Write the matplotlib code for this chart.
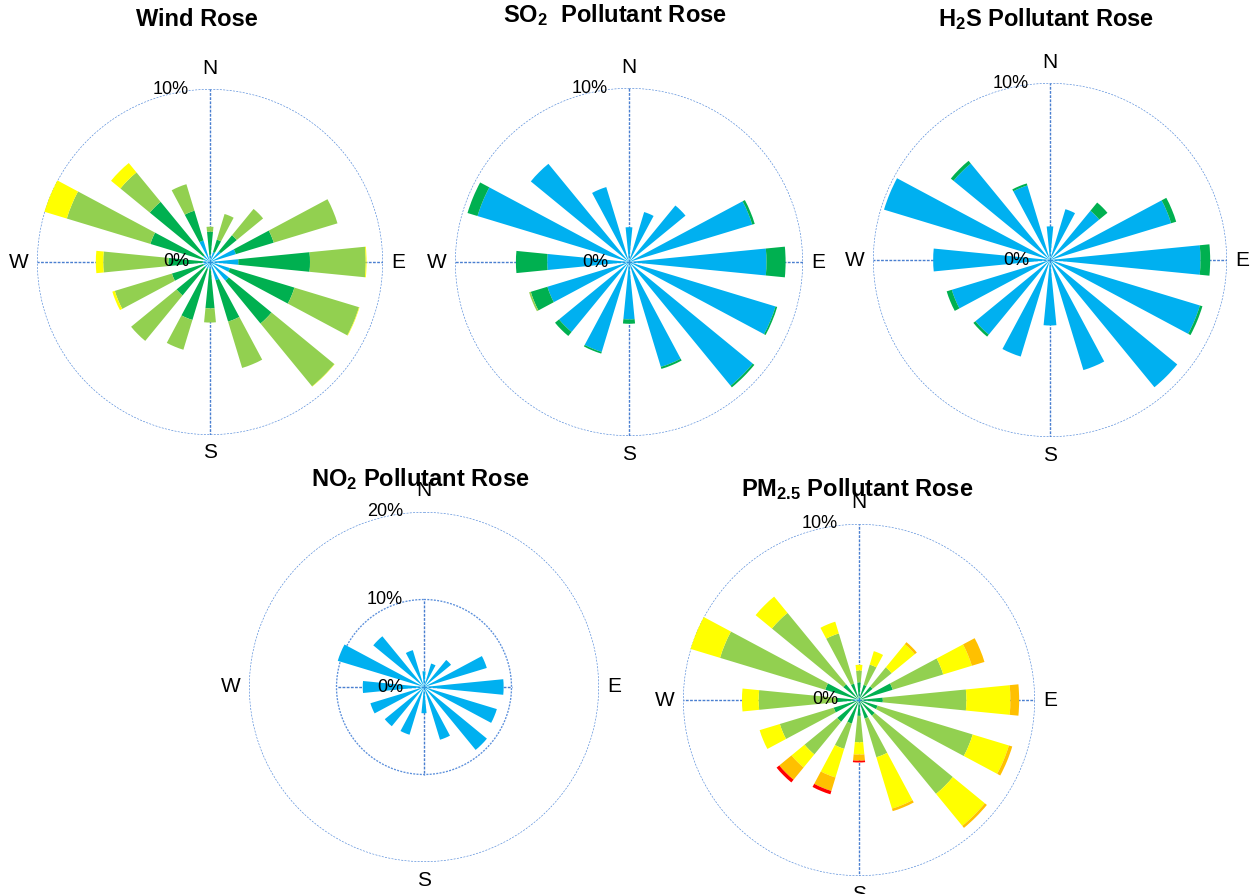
import numpy as np
import matplotlib
matplotlib.use("Agg")
import matplotlib.pyplot as plt

plt.rcParams['font.family'] = ['Liberation Sans', 'DejaVu Sans']
plt.rcParams['mathtext.fontset'] = 'custom'
plt.rcParams['mathtext.rm'] = 'Liberation Sans'
plt.rcParams['mathtext.bf'] = 'Liberation Sans:bold'
plt.rcParams['mathtext.it'] = 'Liberation Sans:italic'

# ---------------- data ----------------
directions = ["N", "NNE", "NE", "ENE", "E", "ESE", "SE", "SSE",
              "S", "SSW", "SW", "WSW", "W", "WNW", "NW", "NNW"]
direction_deg = [0, 22.5, 45, 67.5, 90, 112.5, 135, 157.5,
                 180, 202.5, 225, 247.5, 270, 292.5, 315, 337.5]

# Wind rose (% frequency per speed class)
wind_blue = [0.40, 0.60, 0.80, 1.56, 1.64, 1.20, 1.40, 1.10, 0.40, 0.40, 0.40, 0.40, 0.40, 0.40, 0.50, 1.30]
wind_dgreen = [1.35, 0.75, 1.20, 2.29, 4.14, 3.90, 3.20, 2.50, 2.28, 3.10, 2.10, 1.90, 2.00, 3.20, 4.00, 1.80]
wind_lgreen = [0.29, 1.55, 1.97, 3.85, 3.22, 3.90, 4.70, 2.80, 0.82, 1.80, 3.40, 3.45, 3.77, 5.05, 2.20, 1.60]
wind_yellow = [0.00, 0.00, 0.00, 0.00, 0.05, 0.03, 0.02, 0.00, 0.00, 0.00, 0.00, 0.15, 0.43, 1.35, 0.70, 0.00]

# SO2 pollutant rose
so2_blue = [2.00, 3.00, 4.20, 7.40, 7.90, 8.80, 9.20, 6.30, 3.30, 5.40, 5.20, 4.90, 4.70, 9.10, 7.30, 4.50]
so2_dgreen = [0.00, 0.00, 0.00, 0.15, 1.10, 0.10, 0.12, 0.12, 0.25, 0.10, 0.30, 1.00, 1.80, 0.60, 0.00, 0.00]
so2_lgreen = [0.00, 0.00, 0.00, 0.00, 0.00, 0.00, 0.00, 0.00, 0.00, 0.00, 0.00, 0.10, 0.00, 0.00, 0.00, 0.00]

# H2S pollutant rose
h2s_blue = [1.90, 3.00, 3.60, 7.15, 8.50, 8.85, 9.30, 6.50, 3.70, 5.70, 5.45, 5.80, 6.60, 9.80, 7.05, 4.40]
h2s_dgreen = [0.00, 0.00, 0.60, 0.30, 0.55, 0.15, 0.00, 0.00, 0.00, 0.00, 0.15, 0.30, 0.00, 0.00, 0.20, 0.12]

# NO2 pollutant rose
no2_blue = [1.80, 2.80, 4.00, 7.50, 9.10, 8.70, 9.30, 6.30, 3.00, 5.70, 5.80, 6.40, 7.00, 10.30, 7.50, 4.40]

# PM2.5 pollutant rose
pm_blue = [0.10, 0.10, 0.10, 0.10, 0.10, 0.10, 0.10, 0.10, 0.10, 0.10, 0.10, 0.10, 0.30, 0.10, 0.10, 0.10]
pm_dgreen = [0.90, 0.80, 0.90, 1.90, 1.25, 1.00, 1.05, 1.00, 0.80, 1.30, 1.50, 1.40, 1.00, 1.90, 1.05, 0.87]
pm_lgreen = [0.67, 1.20, 1.40, 3.00, 4.75, 5.65, 5.75, 2.30, 1.50, 1.50, 2.40, 3.20, 4.40, 6.25, 5.25, 2.98]
pm_yellow = [0.33, 0.80, 1.70, 1.70, 2.50, 2.15, 2.35, 3.05, 0.70, 1.70, 0.96, 1.20, 0.95, 1.75, 1.20, 0.70]
pm_orange = [0.00, 0.00, 0.15, 0.75, 0.50, 0.20, 0.15, 0.15, 0.35, 0.80, 0.90, 0.00, 0.00, 0.00, 0.00, 0.00]
pm_red = [0.00, 0.00, 0.00, 0.00, 0.00, 0.00, 0.00, 0.00, 0.10, 0.20, 0.20, 0.00, 0.00, 0.00, 0.00, 0.00]

C_BLUE = '#00B0F0'
C_DGREEN = '#00B050'
C_LGREEN = '#92D050'
C_YELLOW = '#FFFF00'
C_ORANGE = '#FFC000'
C_RED = '#FF0000'

GRID_C = '#4A7FD0'
CIRC_C = '#5B8FDB'

W_PX, H_PX = 1251, 894
fig = plt.figure(figsize=(W_PX / 100, H_PX / 100), dpi=100)
fig.patch.set_facecolor('white')


def rect(cx, cy, R):
    return [(cx - R) / W_PX, (H_PX - (cy + R)) / H_PX, 2 * R / W_PX, 2 * R / H_PX]


def rose(cx, cy, R, rmax, layers, ring_labels, cross_r, circles):
    ax = fig.add_axes(rect(cx, cy, R), projection='polar')
    ax.set_theta_zero_location('N')
    ax.set_theta_direction(-1)
    ax.set_ylim(0, rmax)
    ax.grid(False)
    ax.set_xticks([])
    ax.set_yticks([])
    ax.spines['polar'].set_visible(False)
    ax.patch.set_visible(False)

    theta = np.deg2rad(direction_deg)
    width = np.deg2rad(11.25)
    # grid circles
    tt = np.linspace(0, 2 * np.pi, 500)
    for rc in circles:
        ax.plot(tt, np.full_like(tt, rc), color=CIRC_C, lw=0.95,
                linestyle=(0, (1.5, 1.0)), zorder=1)
    # cross lines
    for ang in [0, 90, 180, 270]:
        ax.plot([np.deg2rad(ang)] * 2, [0, cross_r], color=GRID_C, lw=1.0,
                linestyle=(0, (2.0, 1.0)), zorder=1)
    # stacked bars
    bottom = np.zeros(len(direction_deg))
    for vals, col in layers:
        v = np.asarray(vals, dtype=float)
        ax.bar(theta, v, width=width, bottom=bottom, color=col,
               linewidth=0, zorder=3, clip_on=False)
        bottom = bottom + v
    # compass labels
    off = {'N': (0, 21), 'E': (15, 0), 'S': (0, -18), 'W': (-18, 0)}
    for lab, ang in zip(['N', 'E', 'S', 'W'], [0, 90, 180, 270]):
        ax.annotate(lab, xy=(np.deg2rad(ang), rmax), xytext=off[lab],
                    textcoords='offset pixels', ha='center', va='center',
                    fontsize=15, annotation_clip=False, zorder=5)
    # ring labels
    for rv, txt in ring_labels:
        ax.annotate(txt, xy=(0, rv), xytext=(-21, 0), textcoords='offset pixels',
                    ha='right', va='center', fontsize=13, zorder=6,
                    annotation_clip=False)
    return ax


rose(210, 262, 173, 10,
     [(wind_blue, C_BLUE), (wind_dgreen, C_DGREEN), (wind_lgreen, C_LGREEN),
      (wind_yellow, C_YELLOW)],
     [(10, '10%'), (0, '0%')], 10, [10])

rose(629, 262, 174, 10,
     [(so2_blue, C_BLUE), (so2_dgreen, C_DGREEN), (so2_lgreen, C_LGREEN)],
     [(10, '10%'), (0, '0%')], 10, [10])

rose(1050, 260, 177, 10,
     [(h2s_blue, C_BLUE), (h2s_dgreen, C_DGREEN)],
     [(10, '10%'), (0, '0%')], 10, [10])

rose(424, 687, 175, 20,
     [(no2_blue, C_BLUE)],
     [(20, '20%'), (10, '10%'), (0, '0%')], 10, [10, 20])

rose(859, 700, 176, 10,
     [(pm_blue, C_BLUE), (pm_dgreen, C_DGREEN), (pm_lgreen, C_LGREEN),
      (pm_yellow, C_YELLOW), (pm_orange, C_ORANGE), (pm_red, C_RED)],
     [(10, '10%'), (0, '0%')], 10, [10])

# titles
titles = [
    (197, 26, "Wind Rose"),
    (615, 22, r"SO$_\mathbf{2}$  Pollutant Rose"),
    (1046, 26, r"H$_\mathbf{2}$S Pollutant Rose"),
    (420, 486, r"NO$_\mathbf{2}$ Pollutant Rose"),
    (857, 496, r"PM$_\mathbf{2.5}$ Pollutant Rose"),
]
for x, yb, t in titles:
    fig.text(x / W_PX, 1 - yb / H_PX, t, ha='center', va='baseline',
             fontsize=17, fontweight='bold', zorder=10)

fig.savefig('out.png', dpi=100, facecolor='white')
